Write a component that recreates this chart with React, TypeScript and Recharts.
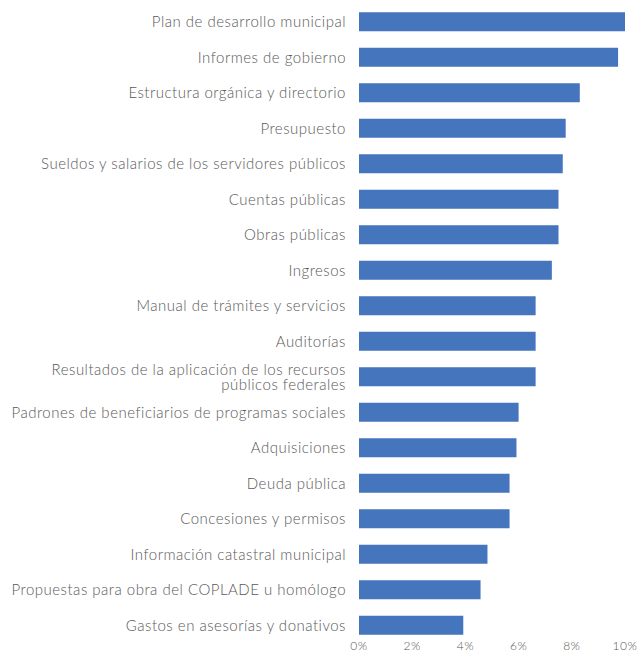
import React from "react";
import { BarChart, Bar, XAxis, YAxis } from "recharts";

const categories: string[] = [
  "Plan de desarrollo municipal",
  "Informes de gobierno",
  "Estructura orgánica y directorio",
  "Presupuesto",
  "Sueldos y salarios de los servidores públicos",
  "Cuentas públicas",
  "Obras públicas",
  "Ingresos",
  "Manual de trámites y servicios",
  "Auditorías",
  "Resultados de la aplicación de los recursos\npúblicos federales",
  "Padrones de beneficiarios de programas sociales",
  "Adquisiciones",
  "Deuda pública",
  "Concesiones y permisos",
  "Información catastral municipal",
  "Propuestas para obra del COPLADE u homólogo",
  "Gastos en asesorías y donativos",
];

const values: number[] = [
  10.0, 9.74, 8.3, 7.77, 7.66, 7.5, 7.5, 7.25, 6.64, 6.64, 6.64, 6.0, 5.92, 5.66,
  5.66, 4.83, 4.57, 3.92,
];

const xTicks: number[] = [0, 2, 4, 6, 8, 10];

const data = categories.map((name, i) => ({ name, value: values[i] }));

const FONT = "Lato, 'Open Sans', sans-serif";
const TEXT = "#595959";

const YTick = (props: any) => {
  const { x, y, payload } = props;
  const lines: string[] = String(payload.value).split("\n");
  const lh = 15;
  const start = -((lines.length - 1) * lh) / 2;
  return (
    <g transform={`translate(${x},${y})`}>
      <text
        textAnchor="end"
        fill={TEXT}
        fontFamily={FONT}
        fontWeight={300}
        fontSize={15}
        letterSpacing={0.5}
      >
        {lines.map((l, i) => (
          <tspan key={i} x={0} y={start + i * lh} dy="0.36em">
            {l}
          </tspan>
        ))}
      </text>
    </g>
  );
};

const XTick = (props: any) => {
  const { x, y, payload } = props;
  return (
    <text
      x={x}
      y={y + 7}
      textAnchor="middle"
      fill={TEXT}
      fontFamily={FONT}
      fontWeight={300}
      fontSize={12}
      letterSpacing={0.5}
    >
      {`${payload.value}%`}
    </text>
  );
};

export default function App() {
  return (
    <div style={{ position: "absolute", left: 0, top: 0, background: "#fff" }}>
      <BarChart
        width={639}
        height={654}
        data={data}
        layout="vertical"
        margin={{ top: 4, right: 14, bottom: 0, left: 0 }}
        barCategoryGap="23%"
      >
        <XAxis
          type="number"
          domain={[0, 10]}
          ticks={xTicks}
          axisLine={false}
          tickLine={false}
          tickSize={0}
          tickMargin={0}
          height={11}
          tick={<XTick />}
          interval={0}
        />
        <YAxis
          type="category"
          dataKey="name"
          width={359}
          axisLine={false}
          tickLine={false}
          tickSize={0}
          tickMargin={13}
          interval={0}
          tick={<YTick />}
        />
        <Bar dataKey="value" fill="#4575BD" isAnimationActive={false} />
      </BarChart>
    </div>
  );
}
